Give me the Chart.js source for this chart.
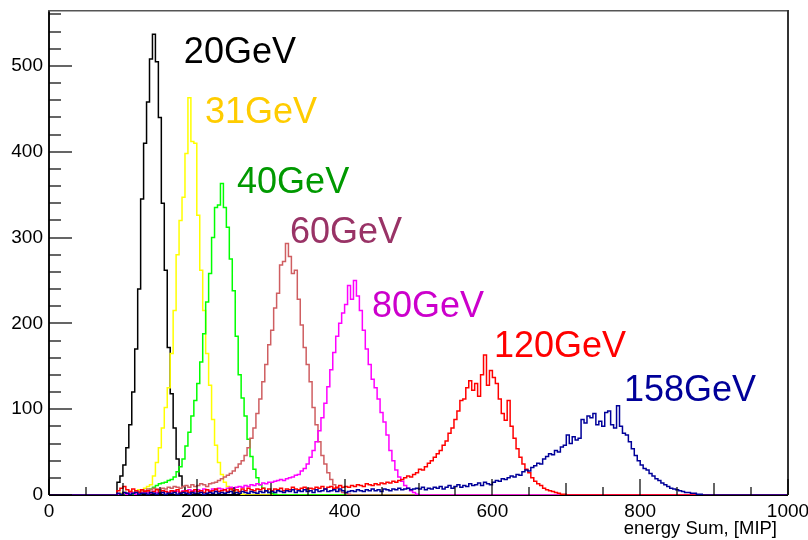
<!DOCTYPE html>
<html>
<head>
<meta charset="utf-8">
<script src="https://cdn.jsdelivr.net/npm/chart.js@4.4.1/dist/chart.umd.min.js"></script>
<style>
html,body{margin:0;padding:0;background:#fff;}
#wrap{width:808px;height:540px;position:relative;}
</style>
</head>
<body>
<div id="wrap"><canvas id="c" width="808" height="540"></canvas></div>
<script>
// ---- data (histogram counts, bin width 4 MIP, first bin low edge given by start*) ----
const binWidth = 4;
const xRange = [0, 1000];
const yRange = [0, 564];
const xTickLabels = [0, 200, 400, 600, 800, 1000];
const yTickLabels = [0, 100, 200, 300, 400, 500];

const start20 = 92;
const counts20 = [15,22,35,55,82,120,170,240,345,410,458,508,537,505,440,340,262,172,118,78,42,22,10,5,3,1];

const start31 = 96;
const counts31 = [2,3,2,4,3,5,6,5,8,10,12,22,38,55,78,102,125,165,215,280,320,347,398,463,412,410,326,262,215,165,128,88,58,38,24,15,10,7,5,3,2,1];

const start40 = 124;
const counts40 = [3,4,5,7,9,11,13,14,15,17,18,21,27,33,42,57,73,92,110,130,155,188,225,258,300,335,338,363,335,312,275,238,185,140,113,92,65,45,30,20,12,8,5,3,2,1];

const start60 = 100;
const counts60 = [3,2,4,3,5,4,6,5,7,6, 8,7,6,8,7,9,8,10,9,8, 10,11,9,12,10,11,13,12,10,13, 14,15,17,19,21,23,25,28,32,36,
  40,46,55,66,78,95,112,132,152,175, 192,218,235,268,272,293,278,258,262,228, 198,172,152,132,102,82,62,46,36,26, 18,12,8,5,3,2,1];

const start80 = 100;
const counts80 = [2,1,3,2,1,2,3,2,3,2, 4,3,2,3,4,3,4,5,4,3, 5,4,6,5,4,6,5,7,6,5, 7,6,8,7,6,8,9,8,9,10,
  9,11,10,12,11,13,12,14,13,15, 15,16,17,18,17,19,20,21,23,24, 28,31,36,44,52,62,75,90,107,126,
  146,166,185,200,212,222,244,228,250,232, 215,192,170,152,135,125,112,96,85,70, 52,40,29,21,16,11,8,5,3,1];

const start120 = 92;
const counts120 = [5,8,10,6,4,7,5,3,6,4,5,3,4,6,3,5,4,3,5,4,6,3,4,5,3,4,6,
  4,5,3,6,4,5,7,4,5,6,4,7,5,6,4,7,5,8,6,5,7,6,8,5,7,
  5,7,6,8,5,7,6,9,7,6,8,9,7,8,7,9,8,10,7,9,10,8,9,11,9,
  10,9,11,10,12,11,10,13,12,11,13,12,14,13,15,14,16,15,17,18,20,22,21,24,26,
  30,29,33,37,40,44,48,52,58,63,72,78,88,98,110,112,125,133,122,130,115,140,163,128,145,
  137,130,112,95,87,110,80,66,54,44,36,30,26,20,16,13,11,8,6,5,4,3,2,1,1];

const start158 = 92;
const counts158 = [2,1,3,2,1,2,3,1,2,2,1,3,2,1,2,3,1,2,2,3,1,2,3,2,1,3,2,
  2,3,1,2,3,2,4,2,3,2,3,4,2,3,2,4,3,2,4,3,2,4,3,5,3,
  4,3,5,4,3,5,4,6,3,5,4,6,4,5,3,6,4,5,7,4,5,6,4,7,5,
  3,4,5,4,6,5,4,6,5,7,5,6,4,7,6,5,7,6,8,6,7,8,6,7,8,
  7,9,6,8,7,9,8,10,7,9,11,8,10,12,9,11,10,13,11,12,14,11,15,13,12,
  15,17,16,19,18,20,22,21,24,23,27,29,28,32,34,37,36,42,45,48,47,52,50,56,58,
  70,60,68,64,66,88,84,92,90,95,82,86,80,96,98,82,78,104,80,72,70,62,54,46,40,
  35,31,29,25,22,19,17,14,12,10,8,7,6,5,4,3,3,2,2,1,1];

const seriesNames = ['20GeV','31GeV','40GeV','60GeV','80GeV','120GeV','158GeV'];
const seriesStarts = [start20, start31, start40, start60, start80, start120, start158];
const seriesCounts = [counts20, counts31, counts40, counts60, counts80, counts120, counts158];

// ---- styles ----
const lineColors = ['#000000','#ffff00','#00ff00','#cf5e61','#ff00ff','#ff0000','#000099'];
const textColors = ['#000000','#ffcc00','#009900','#993366','#cc00cc','#ff0000','#000099'];
// label anchors in data coordinates (MIP, counts): left edge / baseline of text
const labelAnchorX = [182.5, 211, 254.5, 326, 437, 602, 778];
const labelAnchorY = [503.5, 433.5, 352, 293.5, 207.5, 161, 109.5];

const FONT = '"Liberation Sans", Arial, Helvetica, sans-serif';

function toPoints(start, counts) {
  const pts = [{x: xRange[0], y: 0}];
  counts.forEach((c, i) => pts.push({x: start + i * binWidth, y: c}));
  pts.push({x: start + counts.length * binWidth, y: 0});
  pts.push({x: xRange[1], y: 0});
  return pts;
}

const datasets = seriesNames.map((name, i) => ({
  label: name,
  data: toPoints(seriesStarts[i], seriesCounts[i]),
  borderColor: lineColors[i],
  borderWidth: 1.5,
  pointRadius: 0,
  stepped: true,
  fill: false,
  order: seriesNames.length - 1 - i
}));

const overlay = {
  id: 'overlay',
  beforeDatasetsDraw(chart) {
    const {ctx, chartArea: a} = chart;
    ctx.save();
    ctx.fillStyle = '#000';
    ctx.fillRect(a.left, a.bottom - 1, a.right - a.left, 2);
    ctx.restore();
  },
  afterDatasetsDraw(chart) {
    const {ctx, chartArea: a, scales: {x, y}} = chart;
    const L = Math.round(a.left), R = Math.round(a.right), T = Math.round(a.top), B = Math.round(a.bottom);
    ctx.save();
    // frame
    ctx.fillStyle = '#111';
    ctx.fillRect(L - 1, T, 2, B - T);          // left axis
    ctx.fillStyle = '#555';
    ctx.fillRect(L - 1, T - 1, R - L + 2, 1.5); // top
    ctx.fillStyle = '#333';
    ctx.fillRect(R - 1, T - 1, 2, B - T + 1);   // right
    // ticks (inside the frame)
    ctx.fillStyle = '#000';
    for (let v = xRange[0]; v <= xRange[1]; v += 50) {
      const px = Math.round(x.getPixelForValue(v));
      const len = v % 200 === 0 ? 16 : (v % 100 === 0 ? 12 : 8);
      ctx.fillRect(px - 0.6, B - len, 1.2, len);
    }
    for (let v = 0; v <= yRange[1]; v += 20) {
      const py = Math.round(y.getPixelForValue(v));
      const len = v % 100 === 0 ? 23 : 12;
      ctx.fillRect(L, py - 0.6, len, 1.2);
    }
    // series labels
    ctx.font = '36px ' + FONT;
    ctx.textAlign = 'left';
    ctx.textBaseline = 'alphabetic';
    seriesNames.forEach((name, i) => {
      ctx.fillStyle = textColors[i];
      ctx.fillText(name, x.getPixelForValue(labelAnchorX[i]), y.getPixelForValue(labelAnchorY[i]));
    });
    // x axis title
    ctx.font = '18.5px ' + FONT;
    ctx.fillStyle = '#000';
    ctx.textAlign = 'right';
    ctx.fillText('energy Sum, [MIP]', R - 11, 534);
    ctx.restore();
  }
};

new Chart(document.getElementById('c'), {
  type: 'line',
  data: { datasets },
  options: {
    responsive: false,
    animation: false,
    devicePixelRatio: 1,
    layout: { padding: { left: 0, right: 20, top: 11, bottom: 0 } },
    plugins: { legend: { display: false }, tooltip: { enabled: false } },
    scales: {
      x: {
        type: 'linear', min: xRange[0], max: xRange[1],
        grid: { display: false, drawTicks: false },
        border: { display: false },
        afterBuildTicks(s) { s.ticks = xTickLabels.map(v => ({ value: v })); },
        ticks: { autoSkip: false, maxRotation: 0, minRotation: 0, padding: 5, color: '#000',
                 font: { family: FONT, size: 19 }, callback: v => String(v) },
        afterFit(s) { s.height = 45; s.paddingLeft = 0; s.paddingRight = 0; }
      },
      y: {
        type: 'linear', min: yRange[0], max: yRange[1],
        grid: { display: false, drawTicks: false },
        border: { display: false },
        afterBuildTicks(s) { s.ticks = yTickLabels.map(v => ({ value: v })); },
        ticks: { padding: 6, color: '#000', font: { family: FONT, size: 19 }, callback: v => String(v) },
        afterFit(s) { s.width = 49; s.paddingTop = 0; s.paddingBottom = 0; }
      }
    }
  },
  plugins: [overlay]
});
</script>
</body>
</html>
